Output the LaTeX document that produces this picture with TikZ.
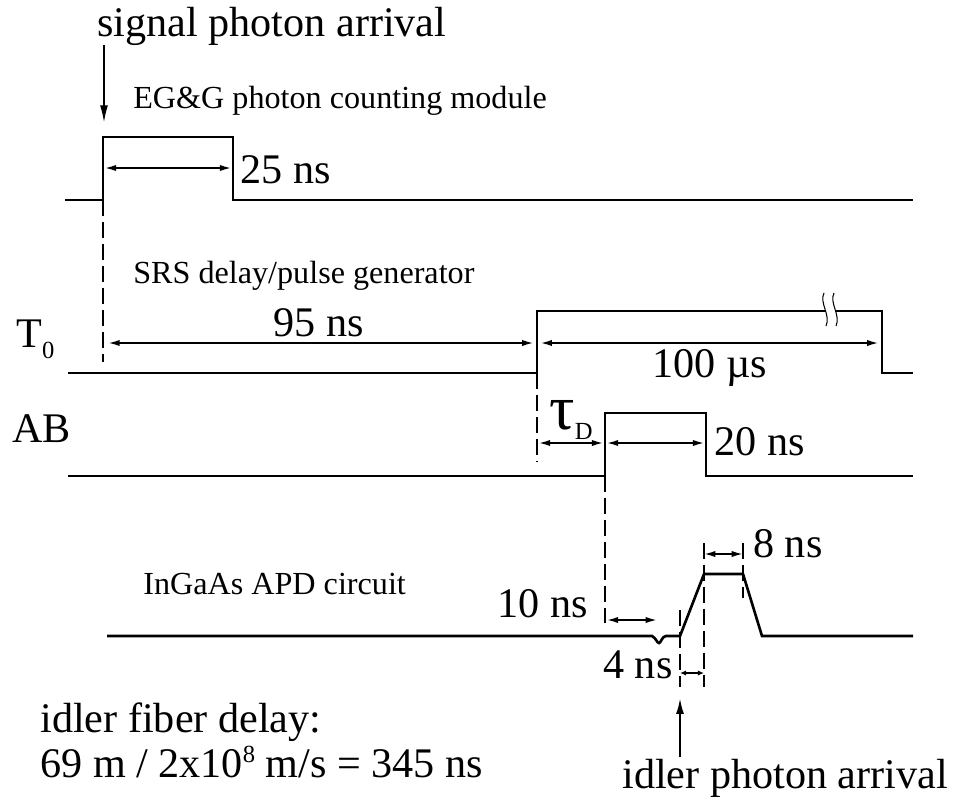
\documentclass[tikz,border=0pt]{standalone}
\usepackage{fontspec}
\setmainfont{Liberation Serif}
\usetikzlibrary{arrows.meta}

\newcommand{\bigtxt}{\fontsize{24}{28}\selectfont}
\newcommand{\smalltxt}{\fontsize{18.3}{22}\selectfont}
\newcommand{\subtxt}{\fontsize{14}{14}\selectfont}

\begin{document}
\begin{tikzpicture}[x=0.02cm,y=-0.02cm,>={Latex[length=6.5pt,width=3.6pt]},
  wave/.style={line width=1.5pt},
  dim/.style={<->,line width=1pt},
  guide/.style={line width=1.2pt,dash pattern=on 9pt off 3.5pt},
  lbl/.style={anchor=base west,inner sep=0pt,font=\bigtxt},
  title/.style={anchor=base west,inner sep=0pt,font=\smalltxt}]
  \useasboundingbox (0,0) rectangle (959,801);

  % waveforms
  \draw[wave] (65,200)--(103,200)--(103,137)--(233,137)--(233,200)--(913,200);
  \draw[wave] (68,373)--(537,373)--(537,311)--(826,311);
  \draw[wave] (836,311)--(882,311)--(882,373)--(913,373);
  \draw[wave] (68,476)--(605,476)--(605,413)--(706,413)--(706,476)--(913,476);
  \draw[wave] (107,636)--(652,636) .. controls (656,638) and (657,643) .. (659,643)
    .. controls (661,643) and (662,636) .. (666,636)--(680,636)--(704,574)
    --(743,574)--(762,636)--(913,636);
  % break in the long pulse
  \foreach \xb in {826,836}
    \draw[line width=.6pt] (\xb-2,293) .. controls (\xb-7,303) and (\xb+5,315) .. (\xb,326);

  % edges of the pulses
  \coordinate (egR) at (103,137);
  \coordinate (egF) at (233,137);
  \coordinate (t0R) at (537,311);
  \coordinate (t0F) at (882,311);
  \coordinate (abR) at (605,413);
  \coordinate (abF) at (706,413);
  \coordinate (apdS) at (680,636);
  \coordinate (apdT) at (704,574);
  \coordinate (apdE) at (743,574);

  % guide lines
  \draw[guide] (egR |- 0,200) -- (egR |- 0,362);
  \draw[guide] (t0R |- 0,373) -- (t0R |- 0,462);
  \draw[guide] (abR |- 0,476) -- (abR |- 0,623);
  \draw[guide] (apdS |- 0,610) -- (apdS |- 0,687);
  \draw[guide] (apdT |- 0,543) -- (apdT |- 0,687);
  \draw[guide] (apdE |- 0,543) -- (apdE |- 0,598);

  % texts
  \node[lbl] (sig) at (97,36) {signal photon arrival};
  \node[title] (egg) at (133,108) {EG\&G photon counting module};
  \node[lbl] (w25) at (240,183) {25 ns};
  \node[title] (srs) at (133,283) {SRS delay/pulse generator};
  \node[lbl] (t0) at (16,347) {T\raisebox{-6.8pt}{\subtxt 0}};
  \node[lbl] (w95) at (273,336) {95 ns};
  \node[lbl] (w100) at (652,377) {100 µs};
  \node[lbl] (ab) at (12,442) {AB};
  \node[anchor=base west,inner sep=0pt] (tau) at (549,429)
    {\fontsize{36}{36}\selectfont τ\raisebox{-5.7pt}{\subtxt D}};
  \node[lbl] (w20) at (714,455) {20 ns};
  \node[title] (apd) at (143,594) {InGaAs APD circuit};
  \node[lbl] (w10) at (497,617) {10 ns};
  \node[lbl] (w8) at (753,557) {8 ns};
  \node[lbl] (w4) at (603,678) {4 ns};
  \node[lbl] (idl) at (622,788) {idler photon arrival};
  \node[lbl] (dl1) at (40,732) {idler fiber delay:};
  \node[lbl] (dl2) at (40,777)
    {69 m / 2x10\raisebox{8pt}{\fontsize{14}{14}\selectfont 8} m/s = 345 ns};

  % arrivals and widths
  \coordinate (sigtop) at (104,45);
  \coordinate (idlbot) at (680,757);
  \draw[->,line width=1.2pt,>={Latex[length=10pt,width=4.5pt]}]
    (sigtop) -- (sigtop |- 0,123);
  \draw[->,line width=1.2pt,>={Latex[length=9pt,width=4.5pt]}]
    (idlbot) -- (idlbot |- 0,698);
  \draw[dim] ([xshift=1pt]egR |- 0,168) -- ([xshift=-1pt]egF |- 0,168);
  \draw[dim] ([xshift=3pt]egR |- 0,343) -- ([xshift=-2pt]t0R |- 0,343);
  \draw[dim] ([xshift=2pt]t0R |- 0,343) -- ([xshift=-2pt]t0F |- 0,343);
  \draw[dim] ([xshift=1pt]t0R |- 0,443) -- ([xshift=-1pt]abR |- 0,443);
  \draw[dim] ([xshift=1pt]abR |- 0,443) -- ([xshift=-1pt]abF |- 0,443);
  \draw[dim] ([xshift=1pt]abR |- 0,620) -- (657,620);
  \draw[dim] (apdT |- 0,554) -- (apdE |- 0,554);
  \draw[dim,>={Latex[length=3.5pt,width=3pt]}] (apdS |- 0,673) -- (apdT |- 0,673);
\end{tikzpicture}
\end{document}
